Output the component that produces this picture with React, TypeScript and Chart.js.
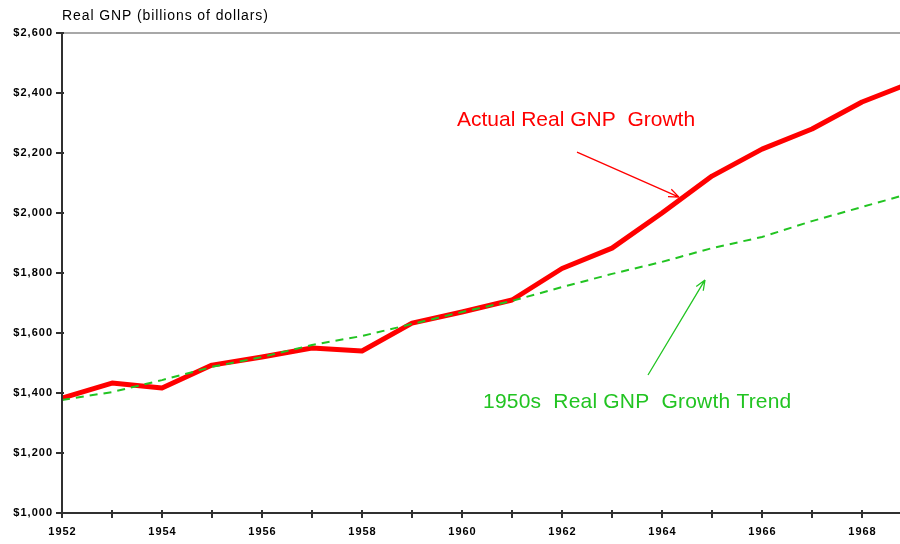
import React, { useEffect, useRef } from 'react';
import { Chart, registerables } from 'chart.js';

Chart.register(...registerables);

const years = [1952, 1953, 1954, 1955, 1956, 1957, 1958, 1959, 1960, 1961, 1962, 1963, 1964, 1965, 1966, 1967, 1968, 1969];
const actualGNP = [1383, 1433, 1417, 1493, 1520, 1550, 1540, 1633, 1670, 1710, 1815, 1883, 2000, 2123, 2213, 2280, 2370, 2435];
const trendGNP = [1377, 1403, 1443, 1487, 1520, 1560, 1590, 1630, 1670, 1707, 1753, 1797, 1837, 1883, 1920, 1973, 2020, 2067];
const yTickValues = [1000, 1200, 1400, 1600, 1800, 2000, 2200, 2400, 2600];
const xTickYears = [1952, 1953, 1954, 1955, 1956, 1957, 1958, 1959, 1960, 1961, 1962, 1963, 1964, 1965, 1966, 1967, 1968];
const xLabelYears = [1952, 1954, 1956, 1958, 1960, 1962, 1964, 1966, 1968];

const chartTitle = 'Real GNP (billions of dollars)';
const actualLabel = 'Actual Real GNP  Growth';
const trendLabel = '1950s  Real GNP  Growth Trend';

// annotation anchors in data units [year, value]
const actualTextAt = [1959.9, 2310];
const actualArrow = [[1962.3, 2203], [1964.34, 2053]];
const trendTextAt = [1960.42, 1370];
const trendArrow = [[1963.72, 1460], [1964.86, 1777]];

const RED = '#ff0000';
const GREEN = '#22c422';
const FONT = '"Liberation Sans", Arial, sans-serif';

function drawArrow(ctx: CanvasRenderingContext2D, x1: number, y1: number, x2: number, y2: number, color: string) {
  ctx.save();
  ctx.strokeStyle = color;
  ctx.lineWidth = 1.3;
  ctx.beginPath();
  ctx.moveTo(x1, y1);
  ctx.lineTo(x2, y2);
  const ang = Math.atan2(y2 - y1, x2 - x1);
  const len = 11;
  const spread = 0.38;
  ctx.moveTo(x2, y2);
  ctx.lineTo(x2 - len * Math.cos(ang - spread), y2 - len * Math.sin(ang - spread));
  ctx.moveTo(x2, y2);
  ctx.lineTo(x2 - len * Math.cos(ang + spread), y2 - len * Math.sin(ang + spread));
  ctx.stroke();
  ctx.restore();
}

const decorPlugin = {
  id: 'decor',
  afterDatasetsDraw(chart: any) {
    const { ctx, chartArea, scales } = chart;
    const xs = scales.x;
    const ys = scales.y;
    const { left, right, top, bottom } = chartArea;
    ctx.save();
    // top gray border
    ctx.strokeStyle = '#a8a8a8';
    ctx.lineWidth = 2;
    ctx.beginPath();
    ctx.moveTo(left, top);
    ctx.lineTo(right, top);
    ctx.stroke();
    // axes
    ctx.strokeStyle = '#303030';
    ctx.lineWidth = 2;
    ctx.beginPath();
    ctx.moveTo(left, top - 1);
    ctx.lineTo(left, bottom + 1);
    ctx.moveTo(left - 1, bottom);
    ctx.lineTo(right, bottom);
    ctx.stroke();
    // y ticks
    ctx.beginPath();
    yTickValues.forEach((v) => {
      const py = ys.getPixelForValue(v);
      ctx.moveTo(left - 6, py);
      ctx.lineTo(left + 2, py);
    });
    // x ticks
    xTickYears.forEach((v) => {
      const px = xs.getPixelForValue(v);
      ctx.moveTo(px, bottom - 3);
      ctx.lineTo(px, bottom + 5);
    });
    ctx.stroke();

    // tick labels
    ctx.fillStyle = '#000';
    ctx.font = `bold 11px ${FONT}`;
    (ctx as any).letterSpacing = '1px';
    ctx.textBaseline = 'middle';
    ctx.textAlign = 'right';
    yTickValues.forEach((v) => {
      ctx.fillText('$' + v.toLocaleString('en-US'), left - 9, ys.getPixelForValue(v));
    });
    ctx.textAlign = 'center';
    xLabelYears.forEach((v) => {
      ctx.fillText(String(v), xs.getPixelForValue(v) + 0.5, bottom + 19);
    });

    // title
    ctx.font = `14px ${FONT}`;
    (ctx as any).letterSpacing = '0.9px';
    ctx.textAlign = 'left';
    ctx.fillText(chartTitle, left, 16);

    // annotations
    ctx.font = `21px ${FONT}`;
    (ctx as any).letterSpacing = '0px';
    ctx.fillStyle = RED;
    ctx.fillText(actualLabel, xs.getPixelForValue(actualTextAt[0]), ys.getPixelForValue(actualTextAt[1]));
    (ctx as any).letterSpacing = '0.2px';
    ctx.fillStyle = GREEN;
    ctx.fillText(trendLabel, xs.getPixelForValue(trendTextAt[0]), ys.getPixelForValue(trendTextAt[1]));
    (ctx as any).letterSpacing = '0px';
    drawArrow(ctx,
      xs.getPixelForValue(actualArrow[0][0]), ys.getPixelForValue(actualArrow[0][1]),
      xs.getPixelForValue(actualArrow[1][0]), ys.getPixelForValue(actualArrow[1][1]), RED);
    drawArrow(ctx,
      xs.getPixelForValue(trendArrow[0][0]), ys.getPixelForValue(trendArrow[0][1]),
      xs.getPixelForValue(trendArrow[1][0]), ys.getPixelForValue(trendArrow[1][1]), GREEN);
    ctx.restore();
  },
};

export default function App() {
  const canvasRef = useRef<HTMLCanvasElement | null>(null);

  useEffect(() => {
    document.body.style.margin = '0';
    const canvas = canvasRef.current;
    if (!canvas) return;
    const chart = new Chart(canvas, {
      type: 'line',
      data: {
        datasets: [
          {
            label: trendLabel,
            data: years.map((y, i) => ({ x: y, y: trendGNP[i] })),
            borderColor: GREEN,
            borderWidth: 2,
            borderDash: [8, 6],
            pointRadius: 0,
            tension: 0,
            fill: false,
          },
          {
            label: actualLabel,
            data: years.map((y, i) => ({ x: y, y: actualGNP[i] })),
            borderColor: RED,
            borderWidth: 5,
            pointRadius: 0,
            tension: 0,
            fill: false,
            borderJoinStyle: 'round',
          },
        ],
      },
      options: {
        animation: false,
        responsive: false,
        maintainAspectRatio: false,
        layout: { padding: { top: 33, left: 0, right: 0, bottom: 0 } },
        plugins: {
          legend: { display: false },
          tooltip: { enabled: false },
          title: { display: false },
        },
        scales: {
          x: {
            type: 'linear',
            min: 1952,
            max: 1968.76,
            afterBuildTicks: (scale: any) => {
              scale.ticks = xTickYears.map((v) => ({ value: v }));
            },
            afterFit: (scale: any) => {
              scale.height = 31;
            },
            grid: { display: false, drawTicks: false },
            border: { display: false },
            ticks: { display: false },
          },
          y: {
            type: 'linear',
            min: 1000,
            max: 2600,
            afterBuildTicks: (scale: any) => {
              scale.ticks = yTickValues.map((v) => ({ value: v }));
            },
            afterFit: (scale: any) => {
              scale.width = 62;
            },
            grid: { display: false, drawTicks: false },
            border: { display: false },
            ticks: { display: false },
          },
        },
      },
      plugins: [decorPlugin],
    });
    return () => chart.destroy();
  }, []);

  return (
    <div style={{ position: 'absolute', left: 0, top: 0, width: 900, height: 544, background: '#fff' }}>
      <canvas ref={canvasRef} width={900} height={544} style={{ display: 'block', width: 900, height: 544 }} />
    </div>
  );
}
